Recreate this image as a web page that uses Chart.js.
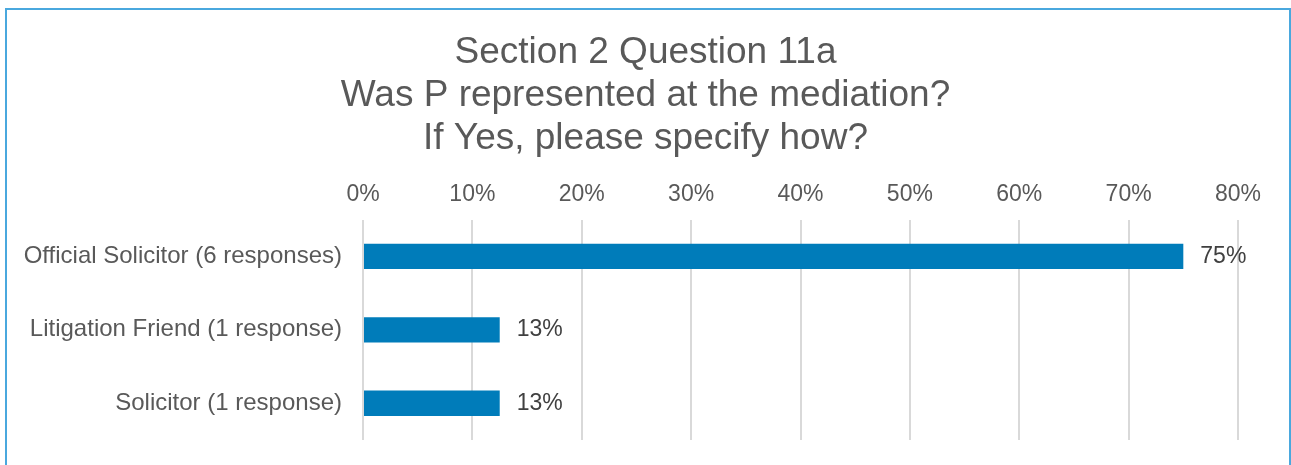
<!DOCTYPE html>
<html>
<head>
<meta charset="utf-8">
<title>Section 2 Question 11a</title>
<script src="https://cdn.jsdelivr.net/npm/chart.js"></script>
<style>
  body { margin: 0; background: #fff; }
  .wrap { position: relative; width: 1291px; height: 465px; overflow: hidden; }
  .frame {
    position: absolute; left: 5px; top: 8px; width: 1286px; height: 480px;
    border: 2px solid #4aa8de; box-sizing: border-box; pointer-events: none;
  }
  canvas { position: absolute; left: 0; top: 0; }
</style>
</head>
<body>
<div class="wrap">
  <canvas id="q11aChart" width="1291" height="465"></canvas>
  <div class="frame"></div>
</div>
<script>
const categories = ['Official Solicitor (6 responses)', 'Litigation Friend (1 response)', 'Solicitor (1 response)'];
const percentages = [75, 12.5, 12.5];
const tickValues = [0, 10, 20, 30, 40, 50, 60, 70, 80];
const titleLines = ['Section 2 Question 11a', 'Was P represented at the mediation?', 'If Yes, please specify how?'];

const fontFamily = "'Liberation Sans', Arial, sans-serif";
const greyText = '#595959';

// writes the rounded percentage just past the end of each bar
const barValueLabels = {
    id: 'barValueLabels',
    afterDatasetsDraw(chart) {
        const c = chart.ctx;
        const meta = chart.getDatasetMeta(0);
        c.save();
        c.font = '23px ' + fontFamily;
        c.fillStyle = '#404040';
        c.textAlign = 'left';
        c.textBaseline = 'middle';
        meta.data.forEach(function (bar, i) {
            c.fillText(Math.round(percentages[i]) + '%', bar.x + 17, bar.y);
        });
        c.restore();
    }
};

const ctx = document.getElementById('q11aChart').getContext('2d');
const q11aChart = new Chart(ctx, {
    type: 'bar',
    data: {
        labels: categories,
        datasets: [{
            label: 'Responses',
            data: percentages,
            backgroundColor: '#007cba',
            borderWidth: 0,
            categoryPercentage: 1,
            barPercentage: 0.345
        }]
    },
    options: {
        indexAxis: 'y',
        responsive: false,
        animation: false,
        devicePixelRatio: 1,
        layout: {
            padding: { top: 0, right: 0, bottom: 25, left: 0 }
        },
        scales: {
            x: {
                position: 'top',
                min: 0,
                max: 80,
                afterBuildTicks: function (scale) {
                    scale.ticks = tickValues.map(v => ({ value: v }));
                },
                afterFit: function (scale) {
                    scale.height = 60;
                },
                ticks: {
                    padding: 11,
                    color: greyText,
                    font: { family: fontFamily, size: 23 },
                    callback: v => v + '%'
                },
                grid: {
                    color: '#d9d9d9',
                    lineWidth: 2,
                    drawTicks: false
                },
                border: { display: false }
            },
            y: {
                afterFit: function (scale) {
                    scale.width = 363;
                    scale.paddingTop = 0;
                    scale.paddingBottom = 0;
                },
                ticks: {
                    padding: 21,
                    color: greyText,
                    font: { family: fontFamily, size: 24 }
                },
                grid: { display: false, drawTicks: false },
                border: { display: false }
            },
            // empty strip on the right so the plot stops short of the frame
            // while the title stays centred on the full width
            rightGap: {
                type: 'linear',
                position: 'right',
                ticks: { display: false },
                grid: { display: false, drawTicks: false },
                border: { display: false },
                afterFit: function (scale) {
                    scale.width = 53;
                    scale.paddingTop = 0;
                    scale.paddingBottom = 0;
                }
            }
        },
        plugins: {
            legend: { display: false },
            tooltip: { enabled: false },
            title: {
                display: true,
                text: titleLines,
                color: greyText,
                font: { family: fontFamily, size: 37, weight: 'normal', lineHeight: 1.15 },
                padding: { top: 32, bottom: 0 }
            }
        }
    },
    plugins: [barValueLabels]
});
</script>
</body>
</html>
